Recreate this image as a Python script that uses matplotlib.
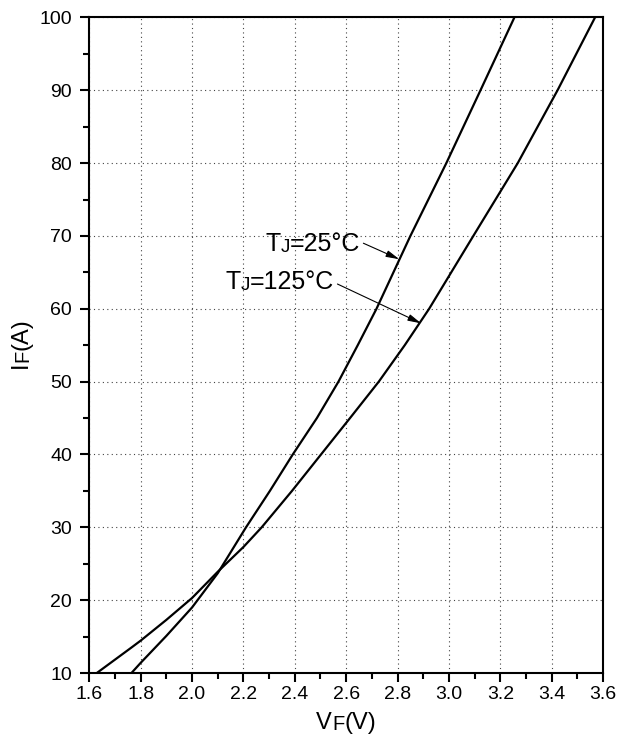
import matplotlib
matplotlib.use("Agg")
from matplotlib import pyplot as plt
from matplotlib.ticker import MultipleLocator
from matplotlib.transforms import IdentityTransform

plt.rcParams['font.family'] = ['Liberation Sans', 'DejaVu Sans']

# forward characteristic
vf_25 = [1.764, 1.80, 1.90, 2.00, 2.10, 2.21, 2.303, 2.392, 2.486, 2.570,
         2.645, 2.718, 2.850, 2.990, 3.123, 3.255]
if_25 = [10.0, 11.4, 15.1, 19.0, 23.7, 30.0, 35.0, 40.0, 45.0, 50.0,
         55.0, 60.0, 70.0, 80.0, 90.0, 100.0]

vf_125 = [1.629, 1.764, 1.80, 1.90, 2.00, 2.10, 2.20, 2.271, 2.389, 2.502,
          2.615, 2.727, 2.828, 2.923, 3.095, 3.268, 3.423, 3.569]
if_125 = [10.0, 13.5, 14.45, 17.3, 20.3, 23.9, 27.3, 30.0, 35.0, 40.0,
          45.0, 50.0, 55.0, 60.0, 70.0, 80.0, 90.0, 100.0]

# (text, fontsize) pieces -> subscript drawn a bit smaller, like the datasheet
label_25 = [('T', 18), ('J', 13.5), ('=25°C', 18)]
label_125 = [('T', 18), ('J', 13.5), ('=125°C', 18)]
xlabel = [('V', 17), ('F', 14.5), ('(V)', 17)]
ylabel = [('I', 17), ('F', 14.5), ('(A)', 17)]

fig = plt.figure(figsize=(6.29, 7.40), dpi=100)
ax = fig.add_axes([0.142, 0.0905, 0.8167, 0.886])

ax.plot(vf_25, if_25, color='black', lw=1.6)
ax.plot(vf_125, if_125, color='black', lw=1.6)

ax.set_xlim(1.6, 3.6)
ax.set_ylim(10, 100)
ax.xaxis.set_major_locator(MultipleLocator(0.2))
ax.xaxis.set_minor_locator(MultipleLocator(0.1))
ax.yaxis.set_major_locator(MultipleLocator(10))
ax.yaxis.set_minor_locator(MultipleLocator(5))
ax.set_xticklabels(['%.1f' % v for v in ax.get_xticks()])

ax.grid(True, which='major', color='#444444', lw=0.8, linestyle=(0, (1, 3)))
ax.tick_params(which='major', direction='out', length=6.5, width=1.5, labelsize=14)
ax.tick_params(axis='x', which='major', pad=3)
ax.tick_params(axis='y', which='major', pad=6)
ax.tick_params(which='minor', direction='out', length=4, width=1.5)
for s in ax.spines.values():
    s.set_linewidth(1.5)


def rich(x, y, parts, transform, rotation=0):
    # first piece placed, the rest chained onto the previous one
    txt, size = parts[0]
    if rotation:
        first = ax.text(x, y, txt, fontsize=size, rotation=90, ha='right', va='bottom',
                        transform=transform, clip_on=False)
    else:
        first = ax.text(x, y, txt, fontsize=size, ha='left', va='baseline',
                        transform=transform, clip_on=False)
    out = [first]
    for txt, size in parts[1:]:
        if rotation:
            t = ax.annotate(txt, xy=(1, 1), xycoords=out[-1], fontsize=size,
                            rotation=90, ha='right', va='bottom', annotation_clip=False)
        else:
            t = ax.annotate(txt, xy=(1, 0), xycoords=out[-1], fontsize=size,
                            ha='left', va='bottom', annotation_clip=False)
        out.append(t)
    return out


px = IdentityTransform()
xl = rich(315, 11, xlabel, px)
yl = rich(32, 380, ylabel, px, rotation=90)

rich(2.284, 67.9, label_25, ax.transData)
rich(2.129, 62.7, label_125, ax.transData)

arrow = dict(arrowstyle='-|>,head_length=0.8,head_width=0.2', color='black', lw=0.8,
             shrinkA=0, shrinkB=0)
ax.annotate('', xy=(2.807, 66.8), xytext=(2.667, 69.0), arrowprops=arrow)
ax.annotate('', xy=(2.892, 58.0), xytext=(2.566, 63.4), arrowprops=arrow)

# centre the axis labels on the axes
fig.canvas.draw()
r = fig.canvas.get_renderer()
bx = [t.get_window_extent(r) for t in xl]
dx = 346 - (bx[0].x0 + bx[-1].x1) / 2
xl[0].set_position((315 + dx, 11))
by = [t.get_window_extent(r) for t in yl]
dy = (740 - 343) - (by[0].y0 + by[-1].y1) / 2
yl[0].set_position((32, 380 + dy))

plt.savefig('out.png', dpi=100)
